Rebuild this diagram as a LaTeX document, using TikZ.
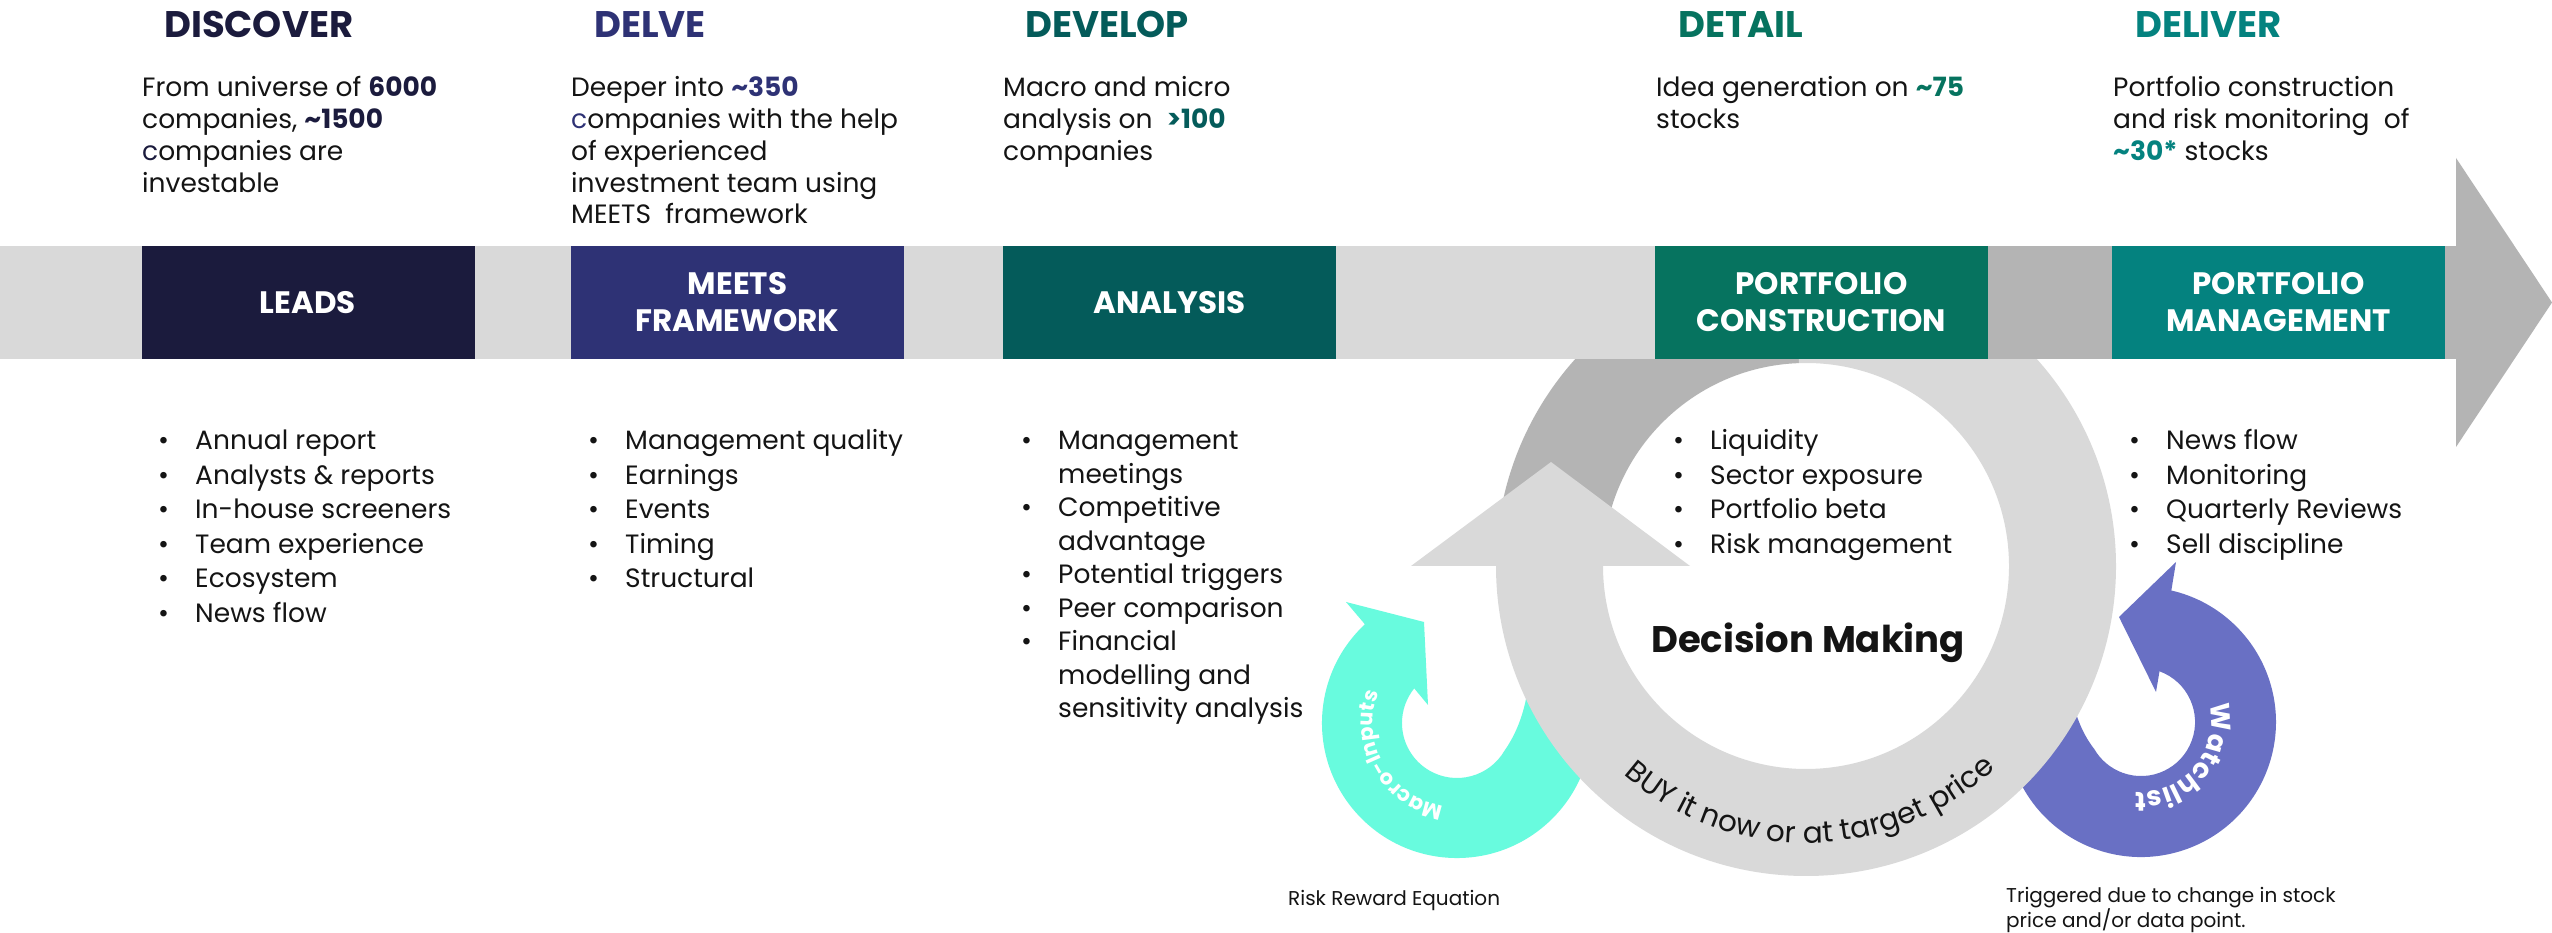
\documentclass[tikz,border=0pt]{standalone}
\usepackage{fontspec}
\setmainfont{Poppins}
\usetikzlibrary{decorations.text}
\definecolor{navy}{HTML}{1B1B3D}
\definecolor{delve}{HTML}{2E3275}
\definecolor{anal}{HTML}{045B5A}
\definecolor{constr}{HTML}{06735F}
\definecolor{mgmt}{HTML}{04827F}
\definecolor{lg}{HTML}{D9D9D9}
\definecolor{dg}{HTML}{B4B4B4}
\definecolor{aqua}{HTML}{68FBDE}
\definecolor{purp}{HTML}{6970C4}
\definecolor{txt}{HTML}{141414}
\newcommand\bl[1]{\makebox[37pt][l]{•}#1}
\newcommand\ind{\makebox[37pt]{}}
\begin{document}
\begin{tikzpicture}[x=1pt,y=1pt,
  hdg/.style={anchor=base west, inner sep=0pt, font=\fontsize{37}{44}\selectfont\bfseries},
  desctxt/.style={anchor=base west, inner sep=0pt, align=left, font=\fontsize{26.5}{31.7}\selectfont, text=txt},
  blist/.style={anchor=base west, inner sep=0pt, align=left, font=\fontsize{26.5}{34.5}\selectfont, text=txt},
  stagebox/.style={minimum width=333pt, minimum height=113pt, inner sep=0pt, text=white, align=center, font=\fontsize{31}{37}\selectfont\bfseries},
  captxt/.style={anchor=base west, inner sep=0pt, align=left, font=\fontsize{20}{25}\selectfont, text=txt}]
\useasboundingbox (0,0) rectangle (2552,932);
\fill[white] (0,0) rectangle (2552,932);
% teal macro-inputs arrow
\fill[aqua] (1364.9,307.7) arc[start angle=133, end angle=400, radius=135pt] -- (1528,245)
  .. controls (1524,215) and (1514,195) .. (1504.6,181.5)
  arc[start angle=-30, end angle=-219, radius=55pt] -- (1428,227) -- (1424,310) -- (1346,330) -- cycle;
% purple watchlist arrow
\fill[purp] (2159.5,260.7) arc[start angle=70, end angle=-150, radius=54pt]
  .. controls (2084,196) and (2074,216) .. (2070,246) -- (2014.1,163.8)
  arc[start angle=200, end angle=437, radius=135pt] -- (2176,370) -- (2119,315) -- (2156,240) -- cycle;
% big ring
\begin{scope}[shift={(1806,366)}]
  \fill[dg] (92:310pt) arc[start angle=92, end angle=180, radius=310pt] -- (180:203pt) arc[start angle=180, end angle=92, radius=203pt] -- cycle;
  \fill[lg] (180:310pt) arc[start angle=180, end angle=452, radius=310pt] -- (452:203pt) arc[start angle=452, end angle=180, radius=203pt] -- cycle;
  \path[decorate, decoration={text along path, text align=center,
    text={|\fontsize{29.5}{29.5}\selectfont\color{txt}|BUY it now or at target price}}]
    (222:277pt) arc[start angle=222, end angle=320, radius=277pt];
\end{scope}
\fill[lg] (1411,366) -- (1551,470) -- (1690,366) -- cycle;
% texts on small arrows
\begin{scope}[shift={(1457,209)}]
  \path[decorate, decoration={text along path, text align=center,
    text={|\fontsize{21}{21}\selectfont\bfseries\color{white}|Macro-Inputs}}]
    (260:84pt) arc[start angle=260, end angle=160, radius=84pt];
\end{scope}
\begin{scope}[shift={(2141,210)}]
  \path[decorate, decoration={text along path, text align=center,
    text={|\fontsize{27}{27}\selectfont\bfseries\color{white}|Watchlist}}]
    (12:70pt) arc[start angle=12, end angle=-92, radius=70pt];
\end{scope}
% band
\fill[lg] (0,573) rectangle (1988,686);
\fill[dg] (1988,573) rectangle (2456,686);
\fill[dg] (2456,774) -- (2552,629.5) -- (2456,485) -- cycle;
% boxes
\node[stagebox, fill=navy] (leads) at (308,629.5) {LEADS};
\node[stagebox, fill=delve] (meets) at (737.5,629.5) {MEETS\\FRAMEWORK};
\node[stagebox, fill=anal] (analysis) at (1169.5,629.5) {ANALYSIS};
\node[stagebox, fill=constr] (pcons) at (1821.5,629.5) {PORTFOLIO\\CONSTRUCTION};
\node[stagebox, fill=mgmt] (pman) at (2278.5,629.5) {PORTFOLIO\\MANAGEMENT};
% headings
\node[hdg, text=navy] (h1) at (164,894) {DISCOVER};
\node[hdg, text=delve] (h2) at (594,894) {DELVE};
\node[hdg, text=anal] (h3) at (1025,894) {DEVELOP};
\node[hdg, text=constr] (h4) at (1678,894) {DETAIL};
\node[hdg, text=mgmt] (h5) at (2135,894) {DELIVER};
% descriptions (anchor = baseline of last line)
\node[desctxt] (d1) at (142,739.9) {From universe of \textbf{\color{navy}6000}\\companies, \textbf{\color{navy}\textasciitilde1500}\\{\color{navy}c}ompanies are\\investable};
\node[desctxt] (d2) at (571,708.2) {Deeper into \textbf{\color{delve}\textasciitilde350}\\{\color{delve}c}ompanies with the help\\of experienced\\investment team using\\MEETS\ \ framework};
\node[desctxt] (d3) at (1003,771.6) {Macro and micro\\analysis on\ \ \textbf{\color{anal}>100}\\companies};
\node[desctxt] (d4) at (1656,803.3) {Idea generation on \textbf{\color{constr}\textasciitilde75}\\stocks};
\node[desctxt] (d5) at (2113,771.6) {Portfolio construction\\and risk monitoring\ \ of\\\textbf{\color{mgmt}\textasciitilde30*} stocks};
% bullet lists (anchor = baseline of last line)
\node[blist] (l1) at (158,309.5) {\bl{Annual report}\\\bl{Analysts \& reports}\\\bl{In-house screeners}\\\bl{Team experience}\\\bl{Ecosystem}\\\bl{News flow}};
\node[blist] (l2) at (588,344) {\bl{Management quality}\\\bl{Earnings}\\\bl{Events}\\\bl{Timing}\\\bl{Structural}};
\node[blist, font=\fontsize{26.5}{33.5}\selectfont] (l3) at (1021,214) {\bl{Management}\\\ind meetings\\\bl{Competitive}\\\ind advantage\\\bl{Potential triggers}\\\bl{Peer comparison}\\\bl{Financial}\\\ind modelling and\\\ind sensitivity analysis};
\node[blist] (l4) at (1673,378.5) {\bl{Liquidity}\\\bl{Sector exposure}\\\bl{Portfolio beta}\\\bl{Risk management}};
\node[blist] (l5) at (2129,378.5) {\bl{News flow}\\\bl{Monitoring}\\\bl{Quarterly Reviews}\\\bl{Sell discipline}};
% centre and captions
\node[anchor=base, inner sep=0pt, font=\fontsize{37}{44}\selectfont\bfseries, text=txt] (dm) at (1808,279) {Decision Making};
\node[captxt] (rre) at (1288,27) {Risk Reward Equation};
\node[captxt] (trg) at (2006,5) {Triggered due to change in stock\\price and/or data point.};
\end{tikzpicture}
\end{document}
